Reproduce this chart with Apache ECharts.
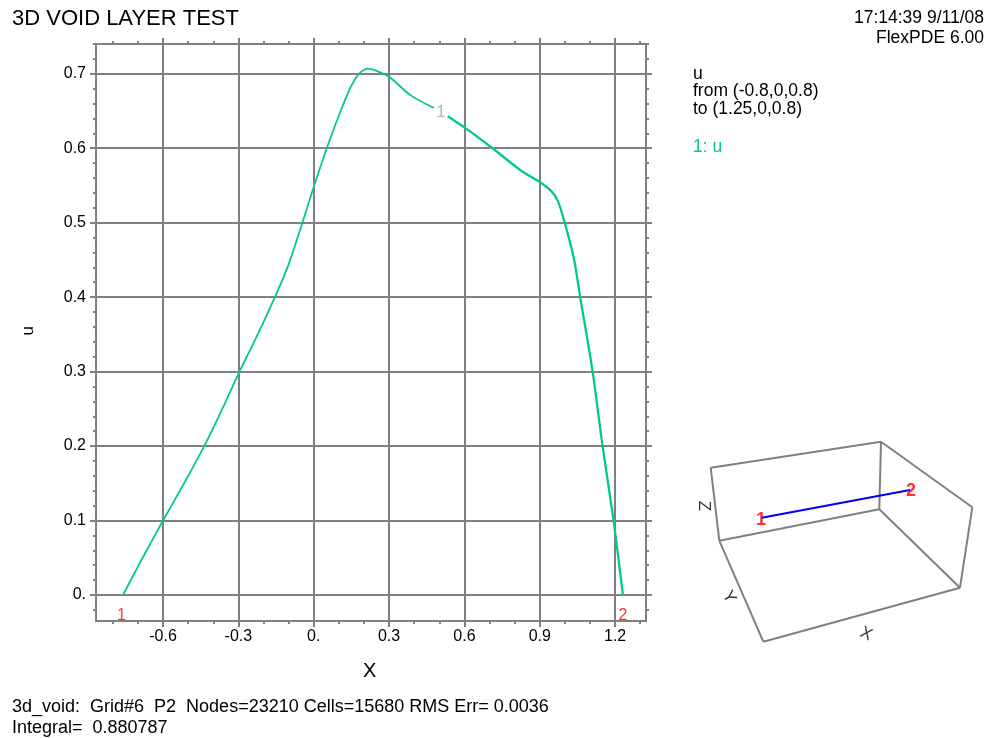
<!DOCTYPE html>
<html>
<head>
<meta charset="utf-8">
<script src="https://cdn.jsdelivr.net/npm/echarts@6/dist/echarts.min.js"></script>
<style>html,body{margin:0;padding:0;background:#fff;}#c{width:987px;height:738px;}</style>
</head>
<body>
<div id="c"></div>
<script>
// ---- data ----
const uX = [-0.759,-0.686,-0.6,-0.513,-0.433,-0.364,-0.3,-0.233,-0.156,-0.1,-0.047,0,0.055,0.10,0.147,0.18,0.214,0.25,0.3,0.386,0.479];
const uY = [0,0.047,0.1,0.152,0.202,0.250,0.297,0.343,0.399,0.444,0.498,0.548,0.603,0.644,0.682,0.700,0.707,0.704,0.696,0.671,0.654];
const uX2 = [0.533,0.6,0.712,0.825,0.898,0.944,0.971,0.997,1.037,1.06,1.11,1.15,1.194,1.231];
const uY2 = [0.643,0.628,0.600,0.570,0.555,0.543,0.530,0.503,0.45,0.402,0.301,0.20,0.10,0.0];
const curveLabel = [[0.507, 0.648]];
const endLabels = [[-0.766, -0.028, '1'], [1.231, -0.028, '2']];
const xMajor = [-0.6,-0.3,0,0.3,0.6,0.9,1.2];
const xMinor = [-0.8,-0.7,-0.5,-0.4,-0.2,-0.1,0.1,0.2,0.4,0.5,0.7,0.8,1.0,1.1,1.3];
const yMajor = [0,0.1,0.2,0.3,0.4,0.5,0.6,0.7];
const yMinor = [];
for (let i = -1; i <= 37; i++) { if (i % 5 !== 0) yMinor.push(+(i*0.02).toFixed(2)); }
// inset 3D box (schematic), in inset pixel units
const boxEdges = [
  [[710.7,467.7],[881,441.7]], [[710.7,467.7],[719.3,540.7]], [[881,441.7],[879.3,509.3]],
  [[719.3,540.7],[879.3,509.3]], [[881,441.7],[972.3,507.3]], [[972.3,507.3],[960,587.7]],
  [[879.3,509.3],[960,587.7]], [[719.3,540.7],[763.3,641.7]], [[763.3,641.7],[960,587.7]]
];
const cutLine = [[761.7,517.7],[910,490]];
const cutLabels = [[761,520,'1'],[911,491,'2']];
const boxAxisLabels = [[704,506,'Z',-90],[729,597,'Y',-60],[866,634,'X',-25]];

const GRID = '#808080';
const GREEN = '#00c98a';
const FONT = '"Liberation Sans", Arial, sans-serif';
const fmt = v => (Math.abs(v) < 1e-9 ? '0.' : v.toFixed(1));

function xAx(pos, values, len, labels) {
  return {
    type: 'value', gridIndex: 0, position: pos, min: -0.867, max: 1.323,
    axisLine: {show: true, onZero: false, lineStyle: {color: GRID, width: 2}},
    axisTick: {show: true, inside: false, length: len, customValues: values, lineStyle: {color: GRID, width: 2}},
    axisLabel: labels ? {show: true, customValues: values, formatter: fmt, color: '#000', fontFamily: FONT, fontSize: 16, margin: 8} : {show: false},
    splitLine: labels ? {show: true, lineStyle: {color: GRID, width: 2}} : {show: false}
  };
}
function yAx(pos, values, len, labels) {
  return {
    type: 'value', gridIndex: 0, position: pos, min: -0.035, max: 0.740,
    axisLine: {show: true, onZero: false, lineStyle: {color: GRID, width: 2}},
    axisTick: {show: true, inside: false, length: len, customValues: values, lineStyle: {color: GRID, width: 2}},
    axisLabel: labels ? {show: true, customValues: values, formatter: fmt, color: '#000', fontFamily: FONT, fontSize: 16, margin: 10} : {show: false},
    splitLine: labels ? {show: true, lineStyle: {color: GRID, width: 2}} : {show: false}
  };
}

const chart = echarts.init(document.getElementById('c'), null, {renderer: 'canvas'});
const zip = (a, b) => a.map((v, i) => [v, b[i]]);

const boxSeries = boxEdges.map(e => ({
  type: 'line', xAxisIndex: 4, yAxisIndex: 4, data: e, symbol: 'none', silent: true,
  lineStyle: {color: GRID, width: 2}
}));

chart.setOption({
  animation: false,
  grid: [
    {left: 96, top: 44, width: 550, height: 577},
    {left: 680, top: 430, width: 307, height: 220}
  ],
  xAxis: [
    xAx('bottom', xMajor, 6, true),
    xAx('bottom', xMinor, 3, false),
    xAx('top', xMajor, 6, false),
    xAx('top', xMinor, 3, false),
    {type: 'value', gridIndex: 1, min: 680, max: 987, show: false}
  ],
  yAxis: [
    yAx('left', yMajor, 6, true),
    yAx('left', yMinor, 3, false),
    yAx('right', yMajor, 6, false),
    yAx('right', yMinor, 3, false),
    {type: 'value', gridIndex: 1, min: 430, max: 650, inverse: true, show: false}
  ],
  series: [
    {type: 'line', data: zip(uX, uY), symbol: 'none', smooth: 0.25, lineStyle: {color: GREEN, width: 1.8}},
    {type: 'line', data: zip(uX2, uY2), symbol: 'none', smooth: 0.25, lineStyle: {color: GREEN, width: 2.3}},
    {type: 'scatter', data: curveLabel, symbolSize: 0,
     label: {show: true, position: 'inside', formatter: '1', color: '#8aaea0', fontFamily: FONT, fontSize: 16}},
    {type: 'scatter', data: endLabels, symbolSize: 0,
     label: {show: true, position: 'inside', formatter: p => p.data[2], color: '#ff0000', fontFamily: FONT, fontSize: 16}},
    ...boxSeries,
    {type: 'line', xAxisIndex: 4, yAxisIndex: 4, data: cutLine, symbol: 'none', lineStyle: {color: '#0000ff', width: 2}},
    {type: 'scatter', xAxisIndex: 4, yAxisIndex: 4, data: cutLabels, symbolSize: 0,
     label: {show: true, position: 'inside', formatter: p => p.data[2], color: '#ff0000', fontFamily: FONT, fontSize: 18, fontWeight: 'bold'}},
    {type: 'scatter', xAxisIndex: 4, yAxisIndex: 4, symbolSize: 0,
     data: boxAxisLabels.map(d => ({value: [d[0], d[1]], name: d[2], label: {rotate: d[3]}})),
     label: {show: true, position: 'inside', formatter: p => p.name, color: '#000', fontFamily: FONT, fontSize: 17}}
  ],
  graphic: [
    {type: 'text', left: 12, top: 8, style: {text: '3D VOID LAYER TEST', font: '22px ' + FONT, fill: '#000'}},
    {type: 'text', right: 3, top: 9, style: {text: '17:14:39 9/11/08', font: '17.5px ' + FONT, fill: '#000', align: 'right'}},
    {type: 'text', right: 3, top: 29, style: {text: 'FlexPDE 6.00', font: '17.5px ' + FONT, fill: '#000', align: 'right'}},
    {type: 'text', left: 693, top: 65, style: {text: 'u\nfrom (-0.8,0,0.8)\nto (1.25,0,0.8)', font: '17.5px ' + FONT, lineHeight: 17.5, fill: '#000'}},
    {type: 'text', left: 693, top: 138, style: {text: '1: u', font: '17.5px ' + FONT, fill: GREEN}},
    {type: 'text', left: 363, top: 661, style: {text: 'X', font: '20px ' + FONT, fill: '#000'}},
    {type: 'text', left: 20, top: 326, rotation: Math.PI/2, style: {text: 'u', font: '17px ' + FONT, fill: '#000'}},
    {type: 'text', left: 12, top: 697, style: {text: '3d_void:  Grid#6  P2  Nodes=23210 Cells=15680 RMS Err= 0.0036\nIntegral=  0.880787', font: '18px ' + FONT, lineHeight: 21, fill: '#000'}}
  ]
});
</script>
</body>
</html>
